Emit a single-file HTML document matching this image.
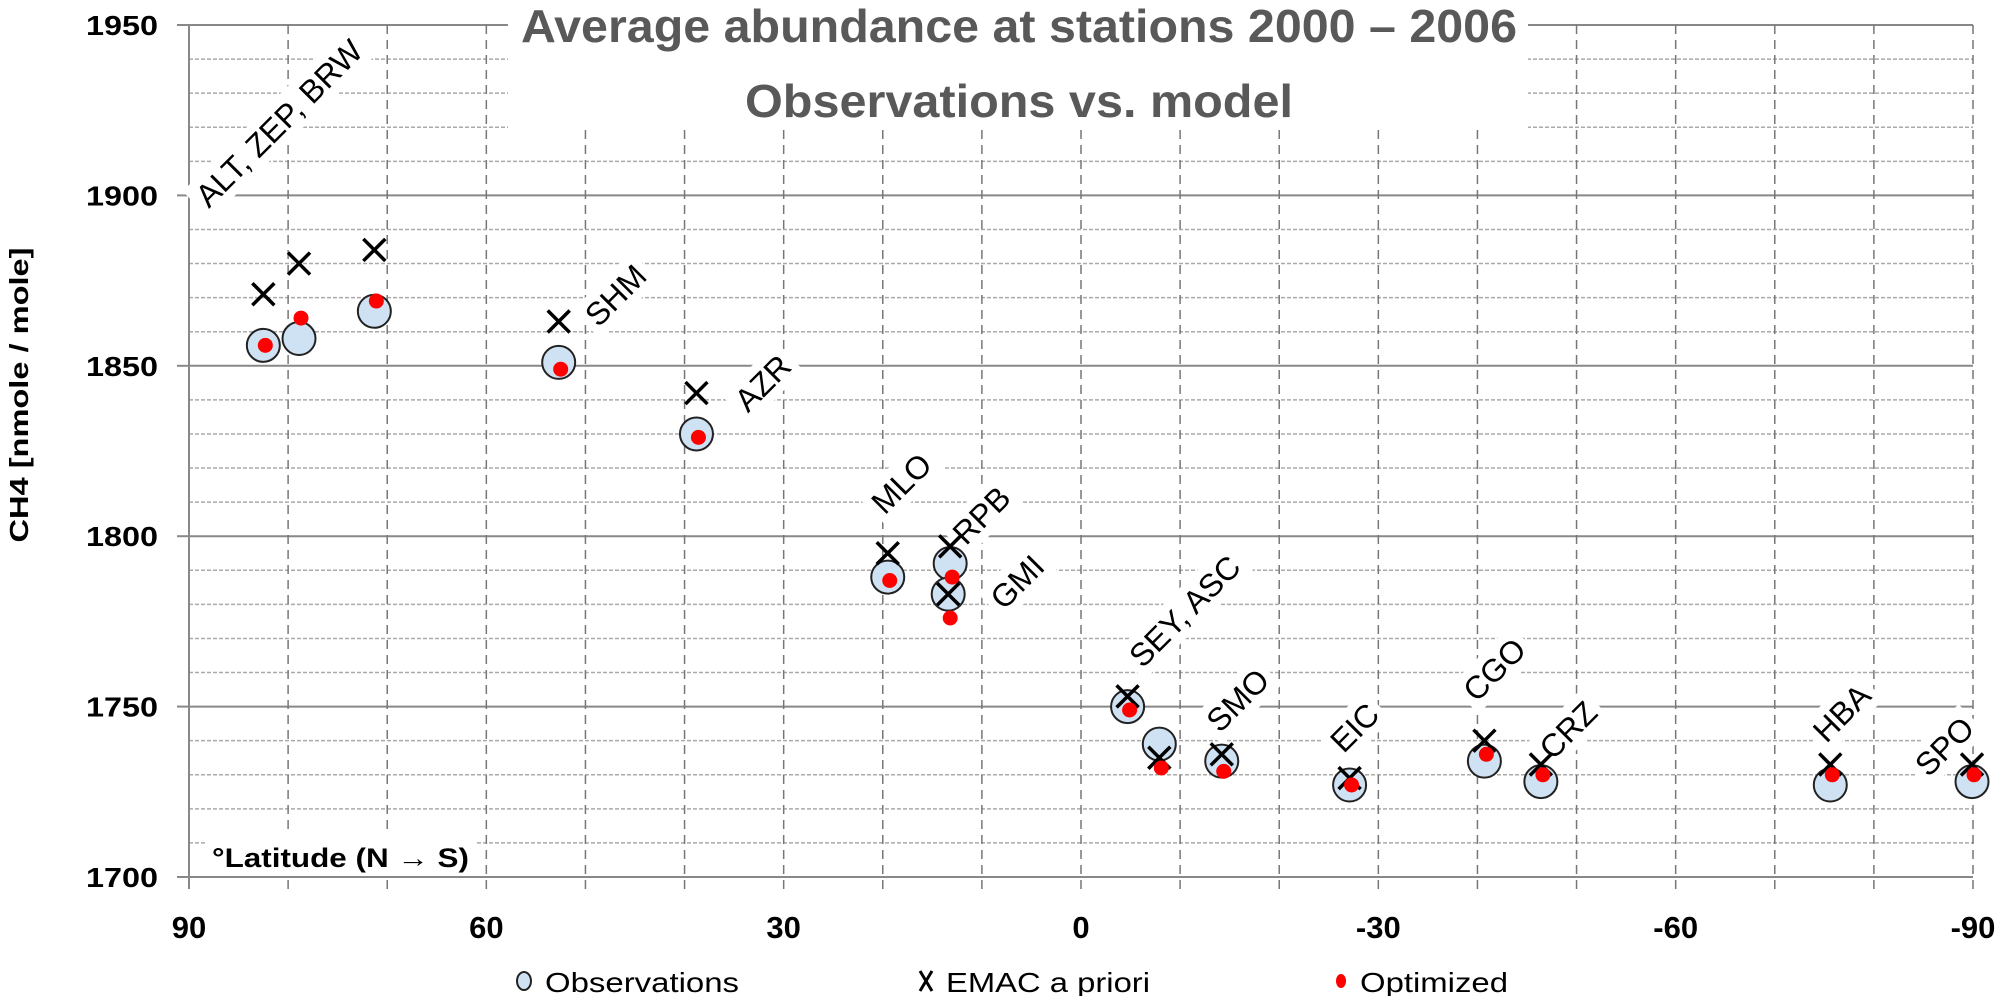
<!DOCTYPE html>
<html><head><meta charset="utf-8"><style>
html,body{margin:0;padding:0;background:#fff;}
svg{display:block;font-family:"Liberation Sans",sans-serif;}
</style></head><body>
<svg id="chart" width="2000" height="996" viewBox="0 0 2000 996" xmlns="http://www.w3.org/2000/svg">
<g id="grid"></g>
<g id="axes"></g>
<g id="labels"></g>
<g id="marks"></g>
<g>
<rect x="508" y="0" width="1020" height="128" fill="#fff"/>
<text x="1019" y="42" text-anchor="middle" font-weight="bold" font-size="46" fill="#595959" textLength="996" lengthAdjust="spacingAndGlyphs">Average abundance at stations 2000 – 2006</text>
<text x="1019" y="117" text-anchor="middle" font-weight="bold" font-size="46" fill="#595959" textLength="548" lengthAdjust="spacingAndGlyphs">Observations vs. model</text>
</g>
<g>
<rect x="205" y="835" width="272" height="40" fill="#fff"/>
<text x="212" y="867" font-weight="bold" font-size="27" fill="#000" textLength="257" lengthAdjust="spacingAndGlyphs">°Latitude (N → S)</text>
</g>
<text transform="translate(28,395) rotate(-90)" text-anchor="middle" font-weight="bold" font-size="26" fill="#000" textLength="295" lengthAdjust="spacingAndGlyphs">CH4 [nmole / mole]</text>
<g>
<g>
<ellipse cx="524" cy="981" rx="7" ry="9" fill="#cfe2f3" stroke="#222" stroke-width="2"/>
<text x="545" y="992" font-size="28" textLength="194" lengthAdjust="spacingAndGlyphs">Observations</text></g>
<g>
<path d="M920 971 L932 991 M932 971 L920 991" stroke="#000" stroke-width="3"/>
<text x="946" y="992" font-size="28" textLength="204" lengthAdjust="spacingAndGlyphs">EMAC a priori</text></g>
<g>
<ellipse cx="1341" cy="981" rx="5" ry="7" fill="#ff0000"/>
<text x="1360" y="992" font-size="28" textLength="148" lengthAdjust="spacingAndGlyphs">Optimized</text></g>
</g>
</svg>
<script>
const stations = ["ALT","ZEP","BRW","SHM","AZR","MLO","RPB","GMI","SEY","ASC","SMO","EIC","CGO","CRZ","HBA","SPO"];
const latitudes = [82.5,78.9,71.3,52.7,38.8,19.5,13.2,13.4,-4.7,-7.9,-14.2,-27.1,-40.7,-46.4,-75.6,-89.9];
const observations = [1856,1858,1866,1851,1830,1788,1792,1783,1750,1739,1734,1727,1734,1728,1727,1728];
const emacPriori = [1871,1880,1884,1863,1842,1795,1797,1783,1753,1735,1736,1729,1740,1733,1733,1733];
const optimized = [1856,1864,1869,1849,1829,1787,1788,1776,1749,1732,1731,1727,1736,1730,1730,1730];
const xTicks = [90,60,30,0,-30,-60,-90];
const yTicks = [1700,1750,1800,1850,1900,1950];
const labelTexts = ["ALT, ZEP, BRW","SHM","AZR","MLO","RPB","GMI","SEY, ASC","SMO","EIC","CGO","CRZ","HBA","SPO"];
const labelLat = [88.0,48.7,33.6,19.8,11.6,7.8,-6.2,-14.0,-26.5,-39.9,-47.6,-75.2,-85.5];
const labelVal = [1896,1861,1836,1806,1797,1778,1761,1742,1736,1751,1734,1739,1729];

const NS="http://www.w3.org/2000/svg";
const X0=189, X1=1973, Y0=877, Y1=25;
function xs(lat){return X0+(90-lat)*(X1-X0)/180;}
function ys(v){return Y0-(v-1700)*(Y0-Y1)/250;}
function mk(tag,attrs,parent){const e=document.createElementNS(NS,tag);for(const k in attrs)e.setAttribute(k,attrs[k]);parent.appendChild(e);return e;}
const grid=document.getElementById('grid'), axes=document.getElementById('axes'), marks=document.getElementById('marks'), labels=document.getElementById('labels');

for(let v=1700;v<=1950;v+=10){
  const major=(v%50===0);
  const l=mk('line',{x1:X0,x2:X1,y1:ys(v),y2:ys(v),stroke:major?'#888':'#aaa','stroke-width':major?2:1.5,'stroke-dasharray':major?'none':'4 2'},grid);
  
  
}
for(let lat=80;lat>=-90;lat-=10){
  const l=mk('line',{x1:xs(lat),x2:xs(lat),y1:Y1,y2:Y0+12,stroke:'#777','stroke-width':1.5,'stroke-dasharray':'9 6'},grid);
  
  
}
const ax=mk('line',{x1:X0,x2:X0,y1:Y1,y2:Y0+12,stroke:'#888','stroke-width':2},axes);


const bx=mk('line',{x1:X0-12,x2:X1,y1:Y0,y2:Y0,stroke:'#888','stroke-width':2},axes);


yTicks.forEach(v=>{
  const t=mk('line',{x1:X0-12,x2:X0,y1:ys(v),y2:ys(v),stroke:'#888','stroke-width':2},axes);
  
  
  const tx=mk('text',{x:158,y:ys(v)+10,'text-anchor':'end','font-weight':'bold','font-size':28,textLength:72,lengthAdjust:'spacingAndGlyphs'},axes);
  tx.textContent=v;
  
  
});
xTicks.forEach(lat=>{
  const tx=mk('text',{x:xs(lat),y:938,'text-anchor':'middle','font-weight':'bold','font-size':31},axes);
  tx.textContent=lat;
  
  
});
labelTexts.forEach((s,i)=>{
  const g=mk('g',{transform:`translate(${xs(labelLat[i])},${ys(labelVal[i])}) rotate(-45)`},labels);
  
  
  const t=mk('text',{x:0,y:0,'font-size':32,fill:'#000'},g);
  t.textContent=s;
  const b=t.getBBox();
  const r=document.createElementNS(NS,'rect');
  r.setAttribute('x',b.x-6);r.setAttribute('y',b.y-2);r.setAttribute('width',b.width+12);r.setAttribute('height',b.height+4);r.setAttribute('fill','#fff');
  g.insertBefore(r,t);
});
observations.forEach((v,i)=>{
  const c=mk('circle',{cx:xs(latitudes[i]),cy:ys(v),r:16.5,fill:'#cfe2f3',stroke:'#222','stroke-width':2},marks);
  
  
});
emacPriori.forEach((v,i)=>{
  const x=xs(latitudes[i]), y=ys(v), s=11;
  const p=mk('path',{d:`M${x-s} ${y-s} L${x+s} ${y+s} M${x+s} ${y-s} L${x-s} ${y+s}`,stroke:'#000','stroke-width':3.5},marks);
  
  
});
optimized.forEach((v,i)=>{
  const c=mk('circle',{cx:xs(latitudes[i])+2,cy:ys(v),r:7.5,fill:'#ff0000'},marks);
  
  
});
</script>
</body></html>
